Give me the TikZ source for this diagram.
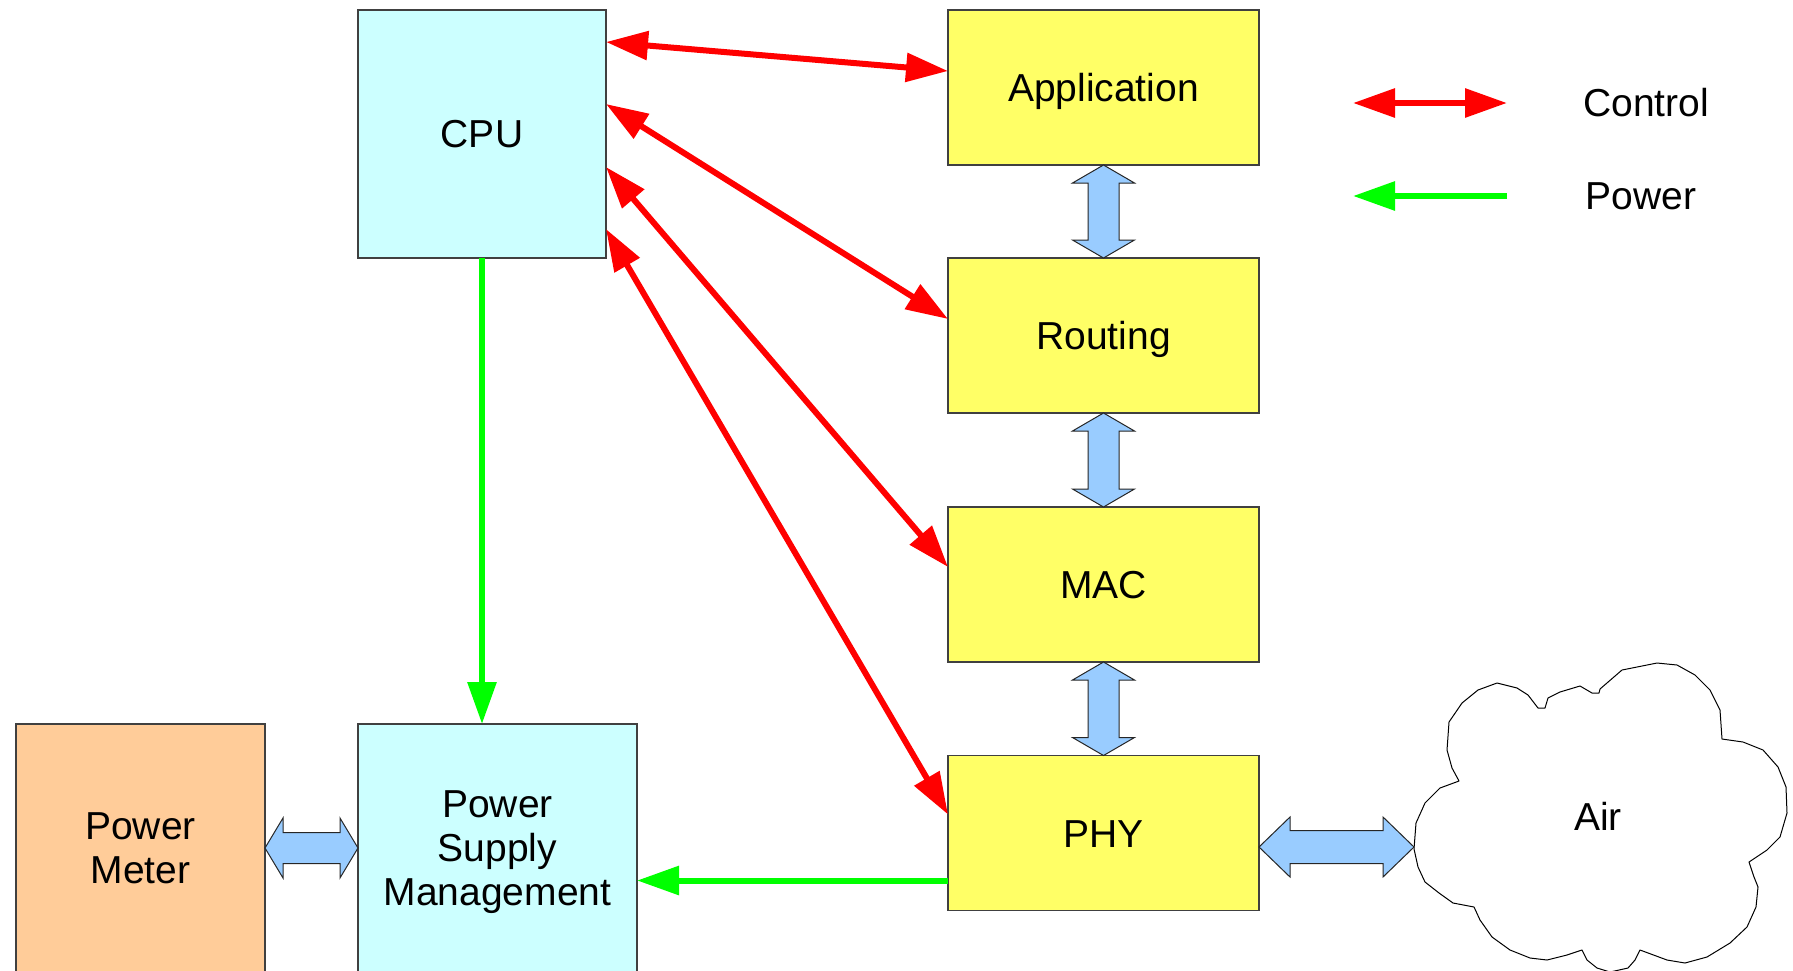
\documentclass[tikz,border=0pt]{standalone}
\usepackage{fontspec}
\setmainfont{Liberation Sans}
\usetikzlibrary{arrows.meta,calc}
\definecolor{cpucyan}{HTML}{CCFFFF}
\definecolor{layeryellow}{HTML}{FFFF66}
\definecolor{meterorange}{HTML}{FFCC99}
\definecolor{blkblue}{HTML}{99CCFF}
\definecolor{ctlred}{HTML}{FF0000}
\definecolor{powgreen}{HTML}{00FF00}
\newcommand\vblkarrow[2]{%
  \draw[blk] let \p1=(#1), \p2=(#2) in
  (\x1,\y1) -- (\x1+15.5pt,\y1-9pt) -- (\x1+7.75pt,\y1-9pt) -- (\x1+7.75pt,\y2+9pt)
  -- (\x1+15.5pt,\y2+9pt) -- (\x1,\y2) -- (\x1-15.5pt,\y2+9pt) -- (\x1-7.75pt,\y2+9pt)
  -- (\x1-7.75pt,\y1-9pt) -- (\x1-15.5pt,\y1-9pt) -- cycle;}
\newcommand\hblkarrow[5]{%
  \draw[blk] let \p1=(#1), \p2=(#2) in
  (\x1,\y1) -- (\x1+#3,\y1+#4) -- (\x1+#3,\y1+#5) -- (\x2-#3,\y1+#5)
  -- (\x2-#3,\y1+#4) -- (\x2,\y1) -- (\x2-#3,\y1-#4) -- (\x2-#3,\y1-#5)
  -- (\x1+#3,\y1-#5) -- (\x1+#3,\y1-#4) -- cycle;}
\begin{document}
\begin{tikzpicture}[x=0.5pt,y=-0.5pt,
  font=\fontsize{19.5pt}{22pt}\selectfont,
  box/.style={draw=black!75, line width=0.6pt, inner sep=0pt, outer sep=0pt, align=center},
  cpubox/.style={box, fill=cpucyan},
  layer/.style={box, fill=layeryellow, minimum width=155.5pt, minimum height=77.5pt,
    text height=14pt, text depth=0pt},
  blk/.style={draw=black!85, line width=0.5pt, fill=blkblue, line join=miter},
  ctl/.style={draw=ctlred, line width=3pt,
    arrows={Triangle[length=21pt,width=14pt]-Triangle[length=21pt,width=14pt]}},
  pow/.style={draw=powgreen, line width=3pt, arrows={-Triangle[length=21pt,width=14pt]}},
  cloudline/.style={draw=black, line width=0.5pt, fill=white, line join=round}
]
\useasboundingbox (0,0) rectangle (1793,970);

% boxes
\node[cpubox, minimum width=124pt, minimum height=124pt] (cpu) at (482,134) {CPU};
\node[layer] (app) at (1103.5,87.5) {Application};
\node[layer] (rout) at (1103.5,335.5) {Routing};
\node[layer] (mac) at (1103.5,584.5) {MAC};
\node[layer] (phy) at (1103.5,833) {PHY};
\node[box, fill=meterorange, minimum width=124.5pt, minimum height=124pt] (pm) at (140.5,848) {Power\\Meter};
\node[cpubox, minimum width=139.5pt, minimum height=128pt] (psm) at (497.5,852) {Power\\Supply\\Management};

% cloud
\draw[cloudline] (1414,849) -- (1416,823) -- (1425,803) -- (1440,788) -- (1459,781)
  -- (1452,768) -- (1447,750) -- (1449,722) -- (1462,703) -- (1478,690) -- (1497,683)
  -- (1517,688) -- (1528,695) -- (1538,708) -- (1545,708) -- (1548,698) -- (1560,692)
  -- (1580,686) -- (1592,693) -- (1599,693) -- (1600,689) -- (1622,670) -- (1657,663)
  -- (1677,665) -- (1695,675) -- (1710,690) -- (1720,710) -- (1722,739) -- (1743,742)
  -- (1763,750) -- (1778,767) -- (1786,787) -- (1787,813) -- (1780,837) -- (1767,850)
  -- (1749,862) -- (1754,877) -- (1758,887) -- (1756,907) -- (1747,927) -- (1730,943)
  -- (1707,957) -- (1685,963) -- (1667,960) -- (1640,950) -- (1635,960) -- (1628,968)
  -- (1610,972) -- (1597,968) -- (1587,960) -- (1582,950) -- (1567,955) -- (1547,960)
  -- (1530,958) -- (1510,950) -- (1492,937) -- (1480,920) -- (1474,907) -- (1453,903)
  -- (1439,893) -- (1425,882) -- (1418,867) -- cycle;
\node (air) at (1598,816) {Air};
\coordinate (airw) at (1414,847);

% block arrows
\vblkarrow{app.south}{rout.north}
\vblkarrow{rout.south}{mac.north}
\vblkarrow{mac.south}{phy.north}
\coordinate (phyr) at ($(phy.east)+(0,14)$);
\hblkarrow{phyr}{airw}{15.5pt}{15pt}{8.25pt}
\coordinate (pmr) at ($(pm.east)+(0,0)$);
\hblkarrow{pmr}{pmr -| psm.west}{9pt}{15pt}{7.75pt}

% control arrows
\draw[ctl] ($(cpu.north east)+(0,32)$) -- ($(app.north west)+(0,61)$);
\draw[ctl] ($(cpu.north east)+(0,94)$) -- ($(rout.north west)+(0,61)$);
\draw[ctl] ($(cpu.north east)+(0,157)$) -- ($(mac.north west)+(0,60)$);
\draw[ctl] ($(cpu.north east)+(0,219)$) -- ($(phy.north west)+(0,59)$);

% power arrows
\draw[pow] (cpu.south) -- (cpu.south |- psm.north);
\coordinate (g2) at ($(phy.south west)+(0,-30)$);
\draw[pow] (g2) -- (g2 -| psm.east);

% legend
\coordinate (lc1) at (1353,103);
\coordinate (lc2) at (1507,103);
\coordinate (lp1) at (1507,196);
\coordinate (lp2) at (1353,196);
\draw[ctl] (lc1) -- (lc2);
\draw[pow] (lp1) -- (lp2);
\node (lctl) at (1646,103) {Control};
\node (lpow) at (1641,196) {Power};
\end{tikzpicture}
\end{document}
